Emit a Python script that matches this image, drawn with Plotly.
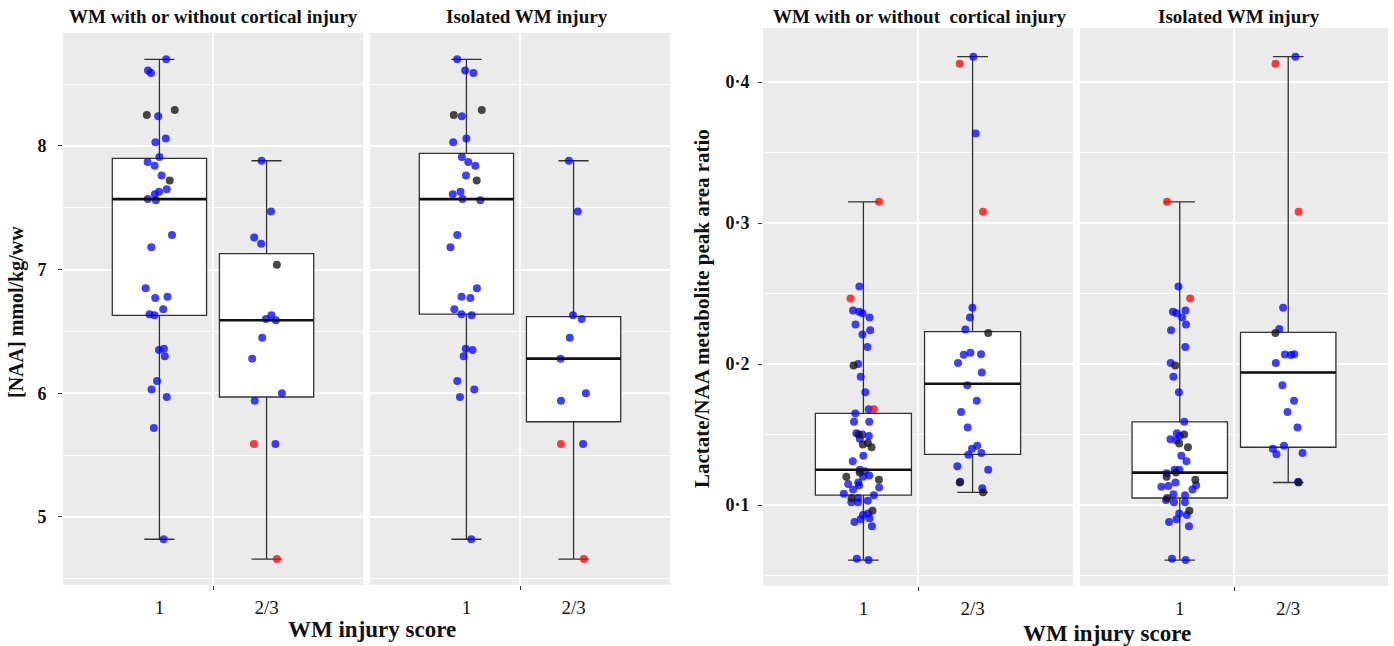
import plotly.graph_objects as go

W, H = 1394, 646

# ---------------- data ----------------
categories = ["1", "2/3"]
cat_pos = [1, 2]

naa_tickvals = [5, 6, 7, 8]
naa_ticktext = ["5", "6", "7", "8"]
lac_tickvals = [0.1, 0.2, 0.3, 0.4]
lac_ticktext = ["0·1", "0·2", "0·3", "0·4"]

facet_titles = ["WM with or without cortical injury", "Isolated WM injury",
                "WM with or without\u00a0 cortical injury", "Isolated WM injury"]
naa_ytitle = "[NAA] mmol/kg/ww"
lac_ytitle = "Lactate/NAA metabolite peak area ratio"
x_title = "WM injury score"

# NAA, WM with or without cortical injury  (box stats: [score 1, score 2/3])
naa_wmc_lower = [4.82, 4.66]
naa_wmc_q1 = [6.63, 5.97]
naa_wmc_median = [7.57, 6.59]
naa_wmc_q3 = [7.90, 7.13]
naa_wmc_upper = [8.70, 7.88]
naa_wmc_1_blue = [8.70, 8.61, 8.59, 8.24, 8.06, 8.03, 7.91, 7.87, 7.84, 7.76, 7.65, 7.63,
                  7.61, 7.57, 7.56, 7.28, 7.18, 6.85, 6.78, 6.77, 6.68, 6.64, 6.63, 6.35,
                  6.36, 6.30, 6.10, 6.03, 5.97, 5.72, 4.82]
naa_wmc_1_black = [8.29, 8.25, 7.72]
naa_wmc_1_red = []
naa_wmc_2_blue = [7.88, 7.47, 7.26, 7.21, 6.63, 6.60, 6.59, 6.45, 6.28, 6.00, 5.94, 5.59]
naa_wmc_2_black = [7.04]
naa_wmc_2_red = [5.59, 4.66]

# NAA, isolated WM injury
naa_iso_lower = [4.82, 4.66]
naa_iso_q1 = [6.64, 5.77]
naa_iso_median = [7.57, 6.28]
naa_iso_q3 = [7.94, 6.62]
naa_iso_upper = [8.70, 7.88]
naa_iso_1_blue = [8.70, 8.61, 8.59, 8.24, 8.06, 8.03, 7.91, 7.87, 7.84, 7.76, 7.63, 7.61,
                  7.57, 7.56, 7.28, 7.18, 6.85, 6.78, 6.77, 6.68, 6.64, 6.63, 6.35, 6.36,
                  6.30, 6.10, 6.03, 5.97, 4.82]
naa_iso_1_black = [8.29, 8.25, 7.72]
naa_iso_1_red = []
naa_iso_2_blue = [7.88, 7.47, 6.63, 6.60, 6.45, 6.28, 6.00, 5.94, 5.59]
naa_iso_2_black = []
naa_iso_2_red = [5.59, 4.66]

# Lactate/NAA, WM with or without cortical injury
lac_wmc_lower = [0.061, 0.109]
lac_wmc_q1 = [0.107, 0.136]
lac_wmc_median = [0.125, 0.186]
lac_wmc_q3 = [0.165, 0.223]
lac_wmc_upper = [0.315, 0.418]
lac_wmc_1_blue = [0.255, 0.238, 0.237, 0.236, 0.233, 0.228, 0.224, 0.221, 0.212, 0.200,
                  0.191, 0.180, 0.168, 0.165, 0.159, 0.159, 0.151, 0.150, 0.149, 0.147,
                  0.135, 0.131, 0.125, 0.124, 0.121, 0.120, 0.116, 0.115, 0.114, 0.1125,
                  0.111, 0.108, 0.107, 0.105, 0.103, 0.102, 0.102, 0.094, 0.093, 0.0906,
                  0.090, 0.088, 0.085, 0.062, 0.061]
lac_wmc_1_black = [0.199, 0.150, 0.144, 0.143, 0.141, 0.123, 0.120, 0.118, 0.105, 0.096]
lac_wmc_1_red = [0.315, 0.2465, 0.168]
lac_wmc_2_blue = [0.418, 0.3635, 0.240, 0.233, 0.2245, 0.208, 0.207, 0.2066, 0.2007, 0.194,
                  0.185, 0.174, 0.166, 0.155, 0.142, 0.140, 0.137, 0.1356, 0.1276, 0.125,
                  0.1165, 0.112]
lac_wmc_2_black = [0.222, 0.116, 0.109]
lac_wmc_2_red = [0.413, 0.308]

# Lactate/NAA, isolated WM injury
lac_iso_lower = [0.061, 0.116]
lac_iso_q1 = [0.105, 0.141]
lac_iso_median = [0.123, 0.194]
lac_iso_q3 = [0.159, 0.2224]
lac_iso_upper = [0.315, 0.418]
lac_iso_1_blue = [0.255, 0.238, 0.237, 0.236, 0.233, 0.228, 0.224, 0.212, 0.2007, 0.191,
                  0.180, 0.159, 0.151, 0.149, 0.1467, 0.146, 0.135, 0.131, 0.125, 0.125,
                  0.1225, 0.116, 0.114, 0.1135, 0.113, 0.111, 0.1076, 0.107, 0.1035, 0.102,
                  0.102, 0.094, 0.093, 0.090, 0.088, 0.085, 0.062, 0.061]
lac_iso_1_black = [0.199, 0.150, 0.1437, 0.141, 0.123, 0.120, 0.118, 0.105, 0.096]
lac_iso_1_red = [0.315, 0.2465]
lac_iso_2_blue = [0.418, 0.240, 0.2248, 0.207, 0.2068, 0.2064, 0.2007, 0.185, 0.174, 0.166,
                  0.155, 0.142, 0.140, 0.137, 0.136, 0.1165]
lac_iso_2_black = [0.222, 0.116]
lac_iso_2_red = [0.413, 0.308]

# ---------------- styling ----------------
FONT = "Liberation Serif, Times New Roman, serif"
BOX_W = 0.88
PT_COLORS = {"blue": "rgba(0,0,255,0.75)", "black": "rgba(20,20,20,0.78)",
             "red": "rgba(255,0,0,0.75)"}

facets = [
    dict(stats=(naa_wmc_lower, naa_wmc_q1, naa_wmc_median, naa_wmc_q3, naa_wmc_upper),
         pts=[(naa_wmc_1_blue, naa_wmc_1_black, naa_wmc_1_red),
              (naa_wmc_2_blue, naa_wmc_2_black, naa_wmc_2_red)]),
    dict(stats=(naa_iso_lower, naa_iso_q1, naa_iso_median, naa_iso_q3, naa_iso_upper),
         pts=[(naa_iso_1_blue, naa_iso_1_black, naa_iso_1_red),
              (naa_iso_2_blue, naa_iso_2_black, naa_iso_2_red)]),
    dict(stats=(lac_wmc_lower, lac_wmc_q1, lac_wmc_median, lac_wmc_q3, lac_wmc_upper),
         pts=[(lac_wmc_1_blue, lac_wmc_1_black, lac_wmc_1_red),
              (lac_wmc_2_blue, lac_wmc_2_black, lac_wmc_2_red)]),
    dict(stats=(lac_iso_lower, lac_iso_q1, lac_iso_median, lac_iso_q3, lac_iso_upper),
         pts=[(lac_iso_1_blue, lac_iso_1_black, lac_iso_1_red),
              (lac_iso_2_blue, lac_iso_2_black, lac_iso_2_red)]),
]

# pixel layout of the four panels: (left, right, top, bottom)
panels = [(63, 363, 33, 585), (370, 670, 33, 585),
          (763, 1073, 28, 586), (1080, 1388, 28, 586)]
xranges = [[0.1, 2.9], [0.1, 2.9], [0.08, 2.92], [0.08, 2.92]]
naa_range = [4.45, 8.913]
lac_range = [0.0426, 0.4383]

fig = go.Figure()

for i, f in enumerate(facets):
    xa = "x" if i == 0 else f"x{i+1}"
    ya = "y" if i == 0 else f"y{i+1}"
    lo, q1, med, q3, up = f["stats"]
    fig.add_trace(go.Box(
        x=cat_pos, lowerfence=lo, q1=q1, median=med, q3=q3, upperfence=up,
        width=BOX_W, whiskerwidth=0.32, fillcolor="white",
        line=dict(color="#333333", width=1.3), boxpoints=False,
        xaxis=xa, yaxis=ya, showlegend=False, hoverinfo="skip"))
    for c, m in zip(cat_pos, med):
        fig.add_trace(go.Scatter(
            x=[c - BOX_W / 2, c + BOX_W / 2], y=[m, m], mode="lines",
            line=dict(color="#111111", width=2.6), xaxis=xa, yaxis=ya,
            showlegend=False, hoverinfo="skip"))
    for c, (blue, black, red) in zip(cat_pos, f["pts"]):
        for name, vals in (("blue", blue), ("black", black), ("red", red)):
            if not vals:
                continue
            fig.add_trace(go.Box(
                y=vals, x=[c] * len(vals), boxpoints="all", jitter=0.42, pointpos=0,
                width=BOX_W, fillcolor="rgba(0,0,0,0)",
                line=dict(color="rgba(0,0,0,0)", width=0),
                marker=dict(color=PT_COLORS[name], size=8),
                xaxis=xa, yaxis=ya, showlegend=False, hoverinfo="skip"))

layout = dict(width=W, height=H, autosize=False, template="none",
              margin=dict(l=0, r=0, t=0, b=0), paper_bgcolor="white",
              plot_bgcolor="#EBEBEB", boxmode="overlay", showlegend=False)

for i, (l, r, t, b) in enumerate(panels):
    xkey = "xaxis" if i == 0 else f"xaxis{i+1}"
    ykey = "yaxis" if i == 0 else f"yaxis{i+1}"
    yanchor = "y" if i == 0 else f"y{i+1}"
    xanchor = "x" if i == 0 else f"x{i+1}"
    layout[xkey] = dict(
        domain=[l / W, r / W], range=xranges[i], anchor=yanchor,
        tickmode="array", tickvals=cat_pos, ticktext=categories, ticks="",
        showgrid=False, zeroline=False, showline=False, automargin=False,
        ticklabelstandoff=9,
        tickfont=dict(family=FONT, size=19, color="#111111"),
        minor=dict(tickmode="array", tickvals=[1.5], ticks="outside", ticklen=4,
                   tickcolor="#333333", tickwidth=1, showgrid=True,
                   gridcolor="white", gridwidth=1.5))
    is_naa = i < 2
    first = i in (0, 2)
    layout[ykey] = dict(
        domain=[1 - b / H, 1 - t / H], anchor=xanchor,
        range=naa_range if is_naa else lac_range,
        tickmode="array",
        tickvals=naa_tickvals if is_naa else lac_tickvals,
        ticktext=naa_ticktext if is_naa else lac_ticktext,
        ticks="outside" if first else "", ticklen=4, tickcolor="#333333",
        showticklabels=first, ticklabelstandoff=8 if is_naa else 5,
        tickfont=dict(family=FONT, size=18, color="#111111", weight="bold"),
        showgrid=True, gridcolor="white", gridwidth=1.5,
        zeroline=False, showline=False, automargin=False,
        minor=dict(dtick=0.5 if is_naa else 0.05, tick0=0, ticks="",
                   showgrid=True, gridcolor="white", gridwidth=1.2))

fig.update_layout(**layout)

ann = []
title_centers = [214, 527, 920, 1239]
for xc, txt in zip(title_centers, facet_titles):
    ann.append(dict(x=xc / W, y=1 - 17 / H, xref="paper", yref="paper", text=txt,
                    showarrow=False, xanchor="center", yanchor="middle",
                    font=dict(family=FONT, size=19, color="#111111", weight="bold")))
for xc, yc in ((372, 629), (1107, 633)):
    ann.append(dict(x=xc / W, y=1 - yc / H, xref="paper", yref="paper", text=x_title,
                    showarrow=False, xanchor="center", yanchor="middle",
                    font=dict(family=FONT, size=23, color="#111111", weight="bold")))
ann.append(dict(x=16 / W, y=1 - 312 / H, xref="paper", yref="paper", text=naa_ytitle,
                showarrow=False, textangle=-90, xanchor="center", yanchor="middle",
                font=dict(family=FONT, size=20, color="#111111", weight="bold")))
ann.append(dict(x=702 / W, y=1 - 308 / H, xref="paper", yref="paper", text=lac_ytitle,
                showarrow=False, textangle=-90, xanchor="center", yanchor="middle",
                font=dict(family=FONT, size=21, color="#111111", weight="bold")))
fig.update_layout(annotations=ann)

fig.write_html("out.html", config={"displayModeBar": False},
               post_script="document.body.style.margin='0';"
                           "document.body.style.overflow='hidden';")
